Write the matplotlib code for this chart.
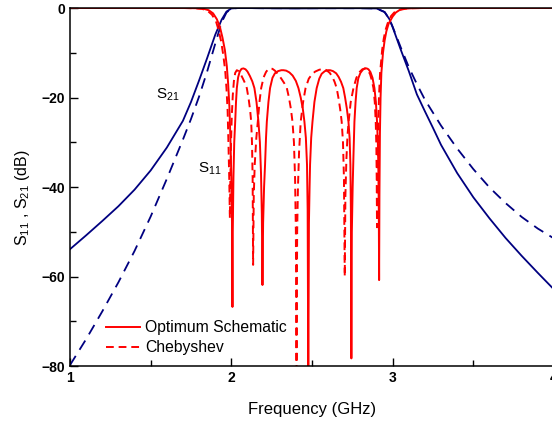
import numpy as np
import matplotlib.pyplot as plt
from matplotlib.ticker import MultipleLocator

plt.rcParams['font.family'] = ['Liberation Sans', 'DejaVu Sans']
plt.rcParams['mathtext.fontset'] = 'custom'
plt.rcParams['mathtext.rm'] = 'Liberation Sans'
plt.rcParams['mathtext.it'] = 'Liberation Sans'

# S21 optimum schematic (solid navy)
f_s21_opt = [1.0, 1.1, 1.2, 1.3, 1.4, 1.5, 1.6, 1.7, 1.75, 1.8, 1.85, 1.9, 1.94, 1.97, 2.0,
             2.05, 2.2, 2.4, 2.6, 2.8, 2.9, 2.95, 2.98, 3.0, 3.05, 3.1, 3.15, 3.2, 3.25,
             3.3, 3.4, 3.5, 3.6, 3.7, 3.8, 3.9, 4.0]
s21_opt = [-53.9, -50.8, -47.6, -44.3, -40.6, -36.3, -31.2, -25.2, -21.0, -16.2, -11.2, -6.0,
           -2.6, -0.8, -0.1, 0, -0.05, -0.1, -0.05, -0.05, -0.1, -0.9, -2.5, -4.3, -9.3,
           -14.1, -19.3, -23.1, -26.8, -30.6, -36.9, -42.3, -47.0, -51.4, -55.4, -59.2, -62.9]

# S21 Chebyshev (dashed navy)
f_s21_cheb = [1.0, 1.1, 1.2, 1.3, 1.4, 1.5, 1.6, 1.7, 1.75, 1.8, 1.85, 1.9, 1.94, 1.97, 2.0,
              2.05, 2.2, 2.4, 2.6, 2.8, 2.9, 2.95, 2.98, 3.0, 3.05, 3.1, 3.15, 3.2, 3.3,
              3.4, 3.5, 3.6, 3.7, 3.8, 3.9, 4.0]
s21_cheb = [-79.8, -74.0, -67.8, -61.3, -54.3, -46.6, -38.2, -29.4, -24.8, -19.8, -14.2, -8.0,
            -3.2, -1.0, -0.1, 0, -0.05, -0.05, -0.05, -0.05, -0.1, -0.9, -2.5, -4.2, -8.8,
            -13.2, -17.0, -20.5, -26.3, -31.4, -36.0, -40.1, -43.6, -46.7, -49.3, -51.5]

# S11 optimum schematic (solid red)
f_s11_opt = [1.0, 1.7, 1.78, 1.826, 1.86, 1.887, 1.91, 1.929, 1.945, 1.96, 1.972, 1.98,
             1.988, 1.995, 2.0, 2.004, 2.007,
             2.009, 2.013, 2.018, 2.024, 2.029, 2.034, 2.042, 2.052, 2.063, 2.075, 2.088,
             2.10, 2.115, 2.13, 2.143, 2.156, 2.168, 2.177, 2.184, 2.189, 2.193,
             2.197, 2.203, 2.209, 2.215, 2.22, 2.23, 2.24, 2.255, 2.27, 2.29, 2.31, 2.323,
             2.34, 2.36, 2.38, 2.40, 2.416, 2.43, 2.443, 2.453, 2.462, 2.469, 2.473, 2.477,
             2.481, 2.485, 2.488, 2.495, 2.503, 2.515, 2.529, 2.545, 2.56, 2.58, 2.6, 2.612,
             2.63, 2.65, 2.665, 2.68, 2.694, 2.705, 2.716, 2.726, 2.733, 2.738, 2.741, 2.744,
             2.747, 2.752, 2.757, 2.763, 2.77, 2.777, 2.787, 2.80, 2.815, 2.828, 2.839, 2.85,
             2.862, 2.875, 2.887, 2.896, 2.903, 2.908, 2.911, 2.914, 2.916,
             2.918, 2.921, 2.925, 2.93, 2.94, 2.95, 2.961, 2.975, 3.0, 3.02, 3.043, 3.08,
             3.12, 3.2, 4.0]
s11_opt = [0, 0, -0.05, -0.15, -0.5, -1.2, -2.5, -4.2, -6.6, -9.4, -13, -16.8,
           -22, -30, -38, -48, -66.8,
           -50, -38, -30, -25.4, -21, -17.9, -15.5, -14.2, -13.6, -13.5, -13.7,
           -14.2, -15.2, -16.4, -17.9, -21, -25.4, -30, -37, -46, -61.9,
           -48, -40, -35, -29, -25.4, -21, -17.9, -15.6, -14.6, -14.1, -13.9, -13.9,
           -14.0, -14.4, -15.1, -16.3, -17.9, -20, -22.5, -25.4, -29, -35, -45, -85,
           -48, -40, -35, -29, -25.4, -21, -17.9, -15.8, -14.7, -14.1, -13.9, -13.9,
           -14.1, -14.6, -15.4, -16.5, -17.9, -20, -22.5, -25.4, -29, -35, -45, -78.3,
           -50, -40, -33, -25.4, -21, -17.9, -15.7, -14.5, -13.8, -13.5, -13.5, -13.7,
           -14.3, -15.6, -17.9, -21, -25.4, -30, -35, -45, -60.8,
           -42, -28, -20, -14.5, -10.0, -7.3, -5.2, -3.5, -1.9, -1.0, -0.45, -0.15,
           -0.05, 0, 0]

# S11 Chebyshev (dashed red)
f_s11_cheb = [1.0, 1.7, 1.77, 1.82, 1.855, 1.88, 1.905, 1.92, 1.937, 1.95, 1.962, 1.97,
              1.977, 1.982, 1.987, 1.991,
              1.994, 1.998, 2.003, 2.009, 2.016, 2.024, 2.034, 2.045, 2.058, 2.072, 2.085,
              2.096, 2.108, 2.117, 2.123, 2.128, 2.132, 2.135,
              2.139, 2.145, 2.155, 2.164, 2.175, 2.185, 2.2, 2.215, 2.228, 2.24, 2.255, 2.27,
              2.29, 2.31, 2.328, 2.344, 2.357, 2.369, 2.379, 2.388, 2.395, 2.400, 2.404,
              2.408, 2.413, 2.42, 2.43, 2.445, 2.46, 2.48, 2.5, 2.52, 2.545, 2.571, 2.59,
              2.61, 2.625, 2.64, 2.653, 2.665, 2.675, 2.684, 2.692, 2.698, 2.703,
              2.707, 2.713, 2.72, 2.727, 2.74, 2.757, 2.775, 2.795, 2.812, 2.829, 2.845,
              2.86, 2.871, 2.881, 2.889, 2.895, 2.899, 2.901, 2.903,
              2.906, 2.91, 2.915, 2.922, 2.935, 2.945, 2.955, 2.97, 2.99, 3.01, 3.03, 3.06,
              3.1, 3.2, 4.0]
s11_cheb = [0, 0, -0.05, -0.2, -0.7, -1.5, -3.0, -4.8, -7.5, -10.5, -14, -18,
            -23, -30, -38, -47,
            -38, -30, -24, -19.5, -16.3, -14.5, -13.9, -14.1, -14.8, -15.8, -16.8,
            -17.9, -20.5, -23, -25.4, -30, -38, -57.4,
            -42, -35, -29, -25.4, -20.8, -17.9, -15.5, -14.3, -13.7, -13.5, -13.6, -14.0,
            -14.8, -15.8, -16.8, -17.9, -20, -22.5, -25.4, -30, -38, -50, -85,
            -50, -40, -32, -25.4, -21, -17.9, -15.8, -14.8, -14.2, -13.8, -13.6, -13.9,
            -14.5, -15.3, -16.5, -17.9, -20.3, -22.7, -25.4, -30, -38, -60,
            -42, -34, -28.5, -25.4, -21, -17.9, -15.6, -14.3, -13.7, -13.5, -13.8,
            -14.8, -16.2, -17.9, -21, -25.4, -31, -38, -49,
            -36, -27, -20, -14.5, -9.3, -6.8, -5.0, -3.3, -1.8, -1.0, -0.5, -0.2,
            -0.06, 0, 0]

navy = '#000080'
red = '#ff0000'

fig = plt.figure(figsize=(5.52, 4.26), dpi=100)
ax = fig.add_axes([70 / 552, 1 - 366 / 426, 484 / 552, 358 / 426])

ax.plot(f_s21_opt, s21_opt, color=navy, lw=1.3)
ax.plot(f_s21_cheb, s21_cheb, color=navy, lw=1.3, ls=(0, (6, 4)))
ax.plot(f_s11_opt, s11_opt, color=red, lw=1.4, label='Optimum Schematic')
ax.plot(f_s11_cheb, s11_cheb, color=red, lw=1.4, ls=(0, (4, 2.5)), label='Chebyshev')

ax.set_xlim(1, 4)
ax.set_ylim(-80, 0)
ax.xaxis.set_major_locator(MultipleLocator(1))
ax.xaxis.set_minor_locator(MultipleLocator(0.5))
ax.yaxis.set_major_locator(MultipleLocator(20))
ax.yaxis.set_minor_locator(MultipleLocator(10))
ax.tick_params(which='both', direction='in', width=1)
ax.tick_params(which='major', length=6, labelsize=10)
ax.tick_params(which='minor', length=4)
for lab in ax.get_xticklabels() + ax.get_yticklabels():
    lab.set_fontweight('bold')
for sp in ax.spines.values():
    sp.set_linewidth(1.1)

ax.set_xlabel('Frequency (GHz)', fontsize=12, labelpad=12)
ax.set_ylabel(r'S$_{\mathregular{11}}$ , S$_{\mathregular{21}}$ (dB)', fontsize=11.5)
ax.yaxis.set_label_coords(-0.078, 0.47)

ax.text(1.535, -19.5, r'S$_{\mathregular{21}}$', fontsize=11, va='center')
ax.text(1.795, -36.0, r'S$_{\mathregular{11}}$', fontsize=11, va='center')

ax.legend(loc='lower left', bbox_to_anchor=(0.045, -0.009), frameon=False, fontsize=11.3,
          handlelength=2.2, handletextpad=0.3, labelspacing=0.3)

fig.savefig('out.png', dpi=100)
